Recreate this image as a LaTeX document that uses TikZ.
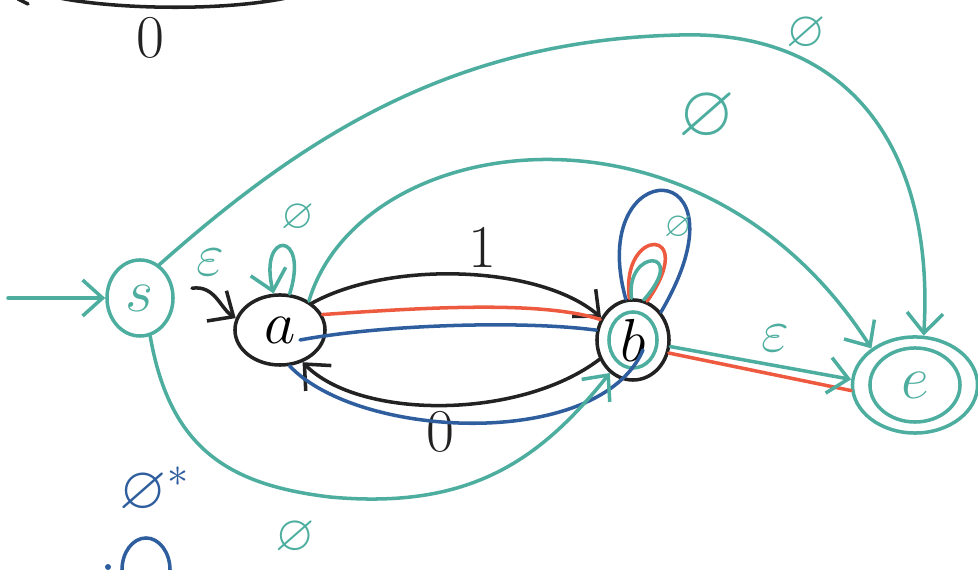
\documentclass[tikz,border=0pt]{standalone}
\usepackage{amssymb}
\usetikzlibrary{arrows.meta, positioning, shapes.geometric}
\definecolor{penteal}{HTML}{4DAE9F}
\definecolor{penred}{HTML}{EE5A3F}
\definecolor{penblue}{HTML}{2F5E9E}
\definecolor{penblack}{HTML}{222222}
\begin{document}
\begin{tikzpicture}[x=0.01cm, y=0.01cm,
    ink/.style={line width=1pt, line cap=round, line join=round},
    tip/.style={-{Straight Barb[length=2mm,width=3.6mm]}},
    state/.style={ellipse, draw, ink, inner sep=0pt, font=\LARGE},
    lbl/.style={font=\LARGE, inner sep=1pt}]

\useasboundingbox (0,0) rectangle (978,570);
\clip (0,0) rectangle (978,570);

% states
\node[state, draw=penteal, text=penteal, minimum width=0.66cm, minimum height=0.76cm] (s) at (140,272) {$s$};
\node[state, draw=penblack, minimum width=0.9cm, minimum height=0.7cm] (a) at (280,240) {$a$};
\node[state, draw=penblack, minimum width=0.72cm, minimum height=0.8cm] (b) at (633,230) {$b$};
\node[state, draw=penteal, text=penteal, minimum width=1.25cm, minimum height=0.96cm] (e) at (915,185) {$e$};
\draw[ink, penteal] (e.center) ellipse [x radius=0.45cm, y radius=0.37cm];
\draw[ink, penteal] (b.center) ellipse [x radius=0.24cm, y radius=0.28cm];

% part of an upper state
\draw[ink, penblack] (50,574) .. controls (110,560) and (230,558) .. (295,574);
\draw[ink, penblack] (18,571) -- (28,566);
\node[lbl, penblack] (lblTop) at (150,532) {$0$};

% start arrow
\coordinate (init) at (8,272);
\draw[ink, tip, penteal] (init) -- (s.west);

% s -> a
\draw[ink, tip, penblack, shorten <=1.8mm] (s.12) .. controls (215,285) and (220,262) .. (a.165);
\node[lbl, penteal] (lblSA) at (210,308) {$\varepsilon$};

% a <-> b
\draw[ink, tip, penblack] (a.40) .. controls (390,310) and (540,305) .. (b.145);
\node[lbl, penblack] (lblAB) at (482,322) {$1$};
\draw[ink, tip, penblack] (b.-150) .. controls (520,150) and (360,150) .. (a.-55);
\node[lbl, penblack] (lblBA) at (440,138) {$0$};

% red path a -> b -> e
\draw[ink, penred] (a.20) .. controls (420,262) and (540,270) .. (b.148);
\draw[ink, penred] (b.95) .. controls (620,344) and (700,344) .. (b.70);
\draw[ink, penred] (b.-20) -- (e.185);

% blue path a -> b -> a
\draw[ink, penblue] ([xshift=2mm, yshift=-1mm]a.center) .. controls (380,245) and (520,250) .. (b.165);
\draw[ink, penblue] (b.100) .. controls (585,418) and (755,418) .. (b.45);
\draw[ink, penblue] ([xshift=1mm, yshift=-1mm]b.center) .. controls (600,120) and (360,130) .. (a.-75);

% teal loops
\draw[ink, tip, penteal] (a.75) .. controls (310,340) and (258,340) .. (a.100);
\node[lbl, font=\large, penteal] (lblLoopA) at (298,352) {$\varnothing$};
\draw[ink, penteal] (b.92) .. controls (625,322) and (690,322) .. (b.75);
\node[lbl, font=\normalsize, penteal] (lblLoopB) at (678,342) {$\varnothing$};

% b -> e
\draw[ink, tip, penteal] (b.-10) -- (e.175);
\node[lbl, penteal] (lblBE) at (775,232) {$\varepsilon$};

% long teal arcs
\draw[ink, tip, penteal] (a.45) .. controls (360,440) and (700,490) .. (e.140);
\node[lbl, font=\huge, penteal] (lblAE) at (707,453) {$\varnothing$};
\draw[ink, tip, penteal] (s.60) .. controls (300,430) and (450,530) .. (680,535)
    .. controls (850,540) and (935,420) .. (e.80);
\node[lbl, font=\Large, penteal] (lblSE) at (806,536) {$\varnothing$};
\draw[ink, tip, penteal] (s.-75) .. controls (170,120) and (230,85) .. (330,73)
    .. controls (470,60) and (540,110) .. (b.-125);
\node[lbl, font=\Large, penteal] (lblSB) at (295,32) {$\varnothing$};

% notes bottom left
\node[lbl, penblue] (lblStar) at (155,80) {$\varnothing^{*}$};
\draw[ink, penblue] (146,0) ellipse [x radius=0.24cm, y radius=0.32cm];
\fill[penblue] (108,3) circle (0.03cm);
\end{tikzpicture}
\end{document}
